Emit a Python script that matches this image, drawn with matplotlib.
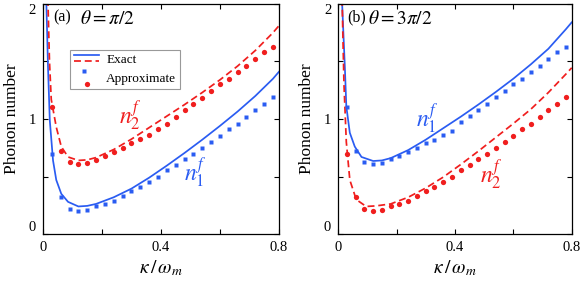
import matplotlib
matplotlib.use("Agg")
import matplotlib.pyplot as plt
from matplotlib.legend_handler import HandlerBase
from matplotlib.lines import Line2D

plt.rcParams["font.family"] = ["Liberation Serif", "DejaVu Serif"]
plt.rcParams["mathtext.fontset"] = "stix"

# kappa / omega_m sampled for the approximate (marker) series
kappa_approx = [0.03, 0.06, 0.09, 0.12, 0.15, 0.18, 0.21, 0.24, 0.27, 0.30,
                0.33, 0.36, 0.39, 0.42, 0.45, 0.48, 0.51, 0.54, 0.57, 0.60,
                0.63, 0.66, 0.69, 0.72, 0.75, 0.78]

# panel (a) theta = pi/2
a_n1_approx = [0.70, 0.32, 0.22, 0.20, 0.21, 0.245, 0.26, 0.29, 0.33, 0.37,
               0.41, 0.455, 0.50, 0.555, 0.60, 0.65, 0.70, 0.75, 0.80, 0.855,
               0.91, 0.96, 1.02, 1.08, 1.13, 1.19]
a_n2_approx = [1.10, 0.72, 0.63, 0.61, 0.62, 0.64, 0.68, 0.71, 0.75, 0.79,
               0.83, 0.86, 0.91, 0.96, 1.02, 1.08, 1.13, 1.18, 1.24, 1.30,
               1.35, 1.41, 1.46, 1.52, 1.58, 1.63]
a_n1_kappa = [0.010, 0.017, 0.023, 0.034, 0.045, 0.062, 0.085, 0.12, 0.15, 0.18,
              0.24, 0.30, 0.36, 0.42, 0.48, 0.54, 0.60, 0.66, 0.72, 0.78, 0.80]
a_n1_exact = [2.15, 1.45, 0.99, 0.64, 0.47, 0.35, 0.28, 0.24, 0.245, 0.262,
              0.32, 0.395, 0.49, 0.595, 0.705, 0.82, 0.94, 1.065, 1.20, 1.35, 1.41]
a_n2_kappa = [0.016, 0.022, 0.028, 0.045, 0.062, 0.085, 0.12, 0.15, 0.18, 0.24,
              0.30, 0.36, 0.42, 0.48, 0.54, 0.60, 0.66, 0.72, 0.78, 0.80]
a_n2_exact = [2.10, 1.50, 1.17, 0.93, 0.76, 0.67, 0.64, 0.645, 0.665, 0.735,
              0.825, 0.925, 1.025, 1.125, 1.23, 1.34, 1.46, 1.595, 1.75, 1.81]

# panel (b) theta = 3 pi/2
b_n1_approx = [1.10, 0.72, 0.63, 0.61, 0.62, 0.65, 0.68, 0.71, 0.745, 0.79,
               0.82, 0.86, 0.90, 0.97, 1.03, 1.08, 1.13, 1.19, 1.24, 1.30,
               1.35, 1.41, 1.46, 1.52, 1.58, 1.63]
b_n2_approx = [0.70, 0.32, 0.22, 0.20, 0.21, 0.24, 0.26, 0.29, 0.33, 0.37,
               0.41, 0.455, 0.50, 0.555, 0.60, 0.65, 0.70, 0.75, 0.80, 0.85,
               0.91, 0.96, 1.02, 1.08, 1.13, 1.19]
b_n1_kappa = [0.012, 0.023, 0.028, 0.040, 0.057, 0.080, 0.12, 0.15, 0.18, 0.24,
              0.30, 0.36, 0.42, 0.48, 0.54, 0.60, 0.66, 0.72, 0.78, 0.80]
b_n1_exact = [2.10, 1.45, 1.11, 0.88, 0.76, 0.67, 0.635, 0.64, 0.66, 0.73,
              0.82, 0.92, 1.02, 1.125, 1.235, 1.35, 1.475, 1.61, 1.78, 1.84]
b_n2_kappa = [0.013, 0.020, 0.028, 0.040, 0.062, 0.096, 0.13, 0.18, 0.24, 0.30,
              0.36, 0.42, 0.48, 0.54, 0.60, 0.66, 0.72, 0.78, 0.80]
b_n2_exact = [2.10, 1.30, 0.80, 0.47, 0.30, 0.24, 0.245, 0.262, 0.32, 0.40,
              0.495, 0.605, 0.72, 0.84, 0.96, 1.085, 1.23, 1.39, 1.445]

BLUE = "#2a5cf2"
RED = "#f01e1e"


class StackHandler(HandlerBase):
    """Legend handler that stacks several handles above each other"""

    def __init__(self, offsets, **kw):
        super().__init__(**kw)
        self.offsets = offsets

    def create_artists(self, legend, orig_handle, xdescent, ydescent,
                       width, height, fontsize, trans):
        artists = []
        yc = height / 2 - ydescent
        for h, (dx, dy) in zip(orig_handle, self.offsets):
            if h.get_linestyle() in ("None", "", " "):
                xs = [width / 2 - xdescent + dx]
                ys = [yc + dy]
            else:
                xs = [-xdescent, width - xdescent]
                ys = [yc + dy, yc + dy]
            art = Line2D(xs, ys)
            art.update_from(h)
            art.set_transform(trans)
            artists.append(art)
        return artists


def draw_panel(ax, n1_k, n1_exact, n2_k, n2_exact, n1_approx, n2_approx):
    l1, = ax.plot(n1_k, n1_exact, color=BLUE, lw=1.25)
    l2, = ax.plot(n2_k, n2_exact, color=RED, lw=1.25, ls=(0, (4, 2.2)))
    m1, = ax.plot(kappa_approx, n1_approx, ls="None", marker="s", ms=3.2,
                  color=BLUE, mec="none")
    m2, = ax.plot(kappa_approx, n2_approx, ls="None", marker="o", ms=3.8,
                  color=RED, mec="none")

    ax.set_xlim(0, 0.8)
    ax.set_ylim(0, 2)
    ax.set_xticks([0, 0.4, 0.8])
    ax.set_xticklabels(["0", "0.4", "0.8"])
    ax.set_xticks([0.2, 0.6], minor=True)
    ax.set_yticks([0, 1, 2])
    ax.set_yticks([0.5, 1.5], minor=True)
    ax.tick_params(which="both", direction="in", top=True, right=True,
                   length=3.5, width=0.8, labelsize=10.5)
    ax.tick_params(axis="x", pad=5)
    ax.tick_params(axis="y", pad=5)
    ylabels = ax.get_yticklabels()
    ylabels[0].set_va("bottom")
    ylabels[-1].set_va("top")
    for sp in ax.spines.values():
        sp.set_linewidth(0.9)
    ax.set_xlabel(r"$\kappa\,/\,\omega_m$", fontsize=14, labelpad=3)
    ax.set_ylabel("Phonon number", fontsize=12.5, labelpad=6)
    return l1, l2, m1, m2


fig = plt.figure(figsize=(5.81, 2.81), dpi=100)
ax_a = fig.add_axes([0.074, 0.167, 0.406, 0.819])
ax_b = fig.add_axes([0.582, 0.167, 0.402, 0.819])

l1, l2, m1, m2 = draw_panel(ax_a, a_n1_kappa, a_n1_exact, a_n2_kappa,
                            a_n2_exact, a_n1_approx, a_n2_approx)
draw_panel(ax_b, b_n1_kappa, b_n1_exact, b_n2_kappa, b_n2_exact,
           b_n1_approx, b_n2_approx)

ax_a.text(0.045, 0.94, "(a)", transform=ax_a.transAxes, fontsize=11.5,
          va="center")
ax_a.text(0.158, 0.935, r"$\theta=\pi/2$", transform=ax_a.transAxes,
          fontsize=14, va="center")
ax_b.text(0.040, 0.94, "(b)", transform=ax_b.transAxes, fontsize=11.5,
          va="center")
ax_b.text(0.128, 0.935, r"$\theta=3\pi/2$", transform=ax_b.transAxes,
          fontsize=14, va="center")

ax_a.text(0.296, 1.03, r"$n_2^f$", color=RED, fontsize=17, ha="center",
          va="center")
ax_a.text(0.517, 0.54, r"$n_1^f$", color=BLUE, fontsize=17, ha="center",
          va="center")
ax_b.text(0.306, 1.01, r"$n_1^f$", color=BLUE, fontsize=17, ha="center",
          va="center")
ax_b.text(0.524, 0.52, r"$n_2^f$", color=RED, fontsize=17, ha="center",
          va="center")

exact_handle = (l1, l2)
approx_handle = (m1, m2)
leg = ax_a.legend(
    [exact_handle, approx_handle], ["Exact", "Approximate"],
    handler_map={
        exact_handle: StackHandler([(0, 2.3), (0, -2.0)]),
        approx_handle: StackHandler([(-1.5, 4.6), (0.5, -4.8)]),
    },
    loc="upper left", bbox_to_anchor=(0.114, 0.80), borderaxespad=0,
    fontsize=9.5, handlelength=1.9, handletextpad=0.55, labelspacing=0.5,
    borderpad=0.3, fancybox=False, framealpha=1, edgecolor="#999999",
)
leg.get_frame().set_linewidth(0.8)

plt.savefig("out.png", dpi=100)
plt.close(fig)
